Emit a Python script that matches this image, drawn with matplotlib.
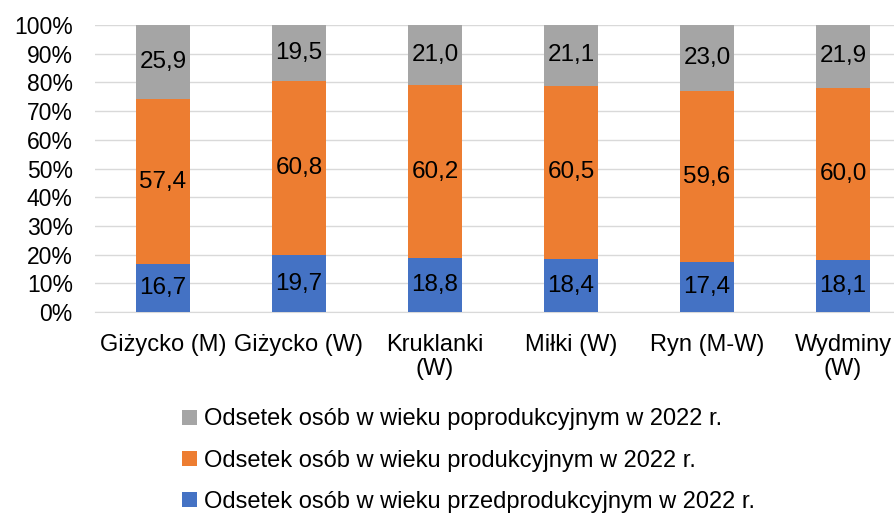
import matplotlib
matplotlib.use("Agg")
import matplotlib.pyplot as plt
from matplotlib.patches import Patch
import numpy as np

categories = ["Giżycko (M)", "Giżycko (W)", "Kruklanki\n(W)", "Miłki (W)", "Ryn (M-W)", "Wydminy\n(W)"]
przed = [16.7, 19.7, 18.8, 18.4, 17.4, 18.1]
prod = [57.4, 60.8, 60.2, 60.5, 59.6, 60.0]
post = [25.9, 19.5, 21.0, 21.1, 23.0, 21.9]
series_names = [
    "Odsetek osób w wieku przedprodukcyjnym w 2022 r.",
    "Odsetek osób w wieku produkcyjnym w 2022 r.",
    "Odsetek osób w wieku poprodukcyjnym w 2022 r.",
]
colors = ["#4472C4", "#ED7D31", "#A5A5A5"]
yticks = list(range(0, 101, 10))

plt.rcParams['font.family'] = ['Liberation Sans', 'DejaVu Sans']
W, H = 895, 515
fig = plt.figure(figsize=(W / 100, H / 100), dpi=100)
left, right = 95 / W, 911 / W
bottom, top = 1 - 312 / H, 1 - 25 / H
ax = fig.add_axes([left, bottom, right - left, top - bottom])

x = np.arange(len(categories))
data = [przed, prod, post]
bottoms = np.zeros(len(categories))
handles = []
for vals, col, name in zip(data, colors, series_names):
    vals = np.array(vals)
    ax.bar(x, vals, 0.4, bottom=bottoms, color=col, label=name, zorder=3)
    for xi, b, v in zip(x, bottoms, vals):
        ax.text(xi, b + v / 2, f"{v:.1f}".replace(".", ","), ha="center", va="center",
                fontsize=17.5, color="black", zorder=4)
    bottoms += vals
    handles.append(Patch(facecolor=col, label=name))

ax.set_xlim(-0.5, len(categories) - 0.5)
ax.set_ylim(0, 100)
ax.set_yticks(yticks)
ax.set_yticklabels([f"{t}%" for t in yticks], fontsize=16.5)
ax.set_xticks(x)
ax.set_xticklabels(categories, fontsize=17, linespacing=1.1)
ax.tick_params(axis="y", length=0, pad=16)
ax.tick_params(axis="x", length=0, pad=16)
ax.grid(axis="y", color="#D9D9D9", linewidth=1, zorder=0)
for s in ["top", "right", "left"]:
    ax.spines[s].set_visible(False)
ax.spines["bottom"].set_color("#D9D9D9")

fig.legend(handles=handles[::-1], loc="upper left", bbox_to_anchor=(173 / W, 1 - 399 / H),
           frameon=False, fontsize=17, handlelength=0.6, handleheight=0.6,
           handletextpad=0.3, labelspacing=0.82, borderaxespad=0)

fig.savefig("out.png", dpi=100)
